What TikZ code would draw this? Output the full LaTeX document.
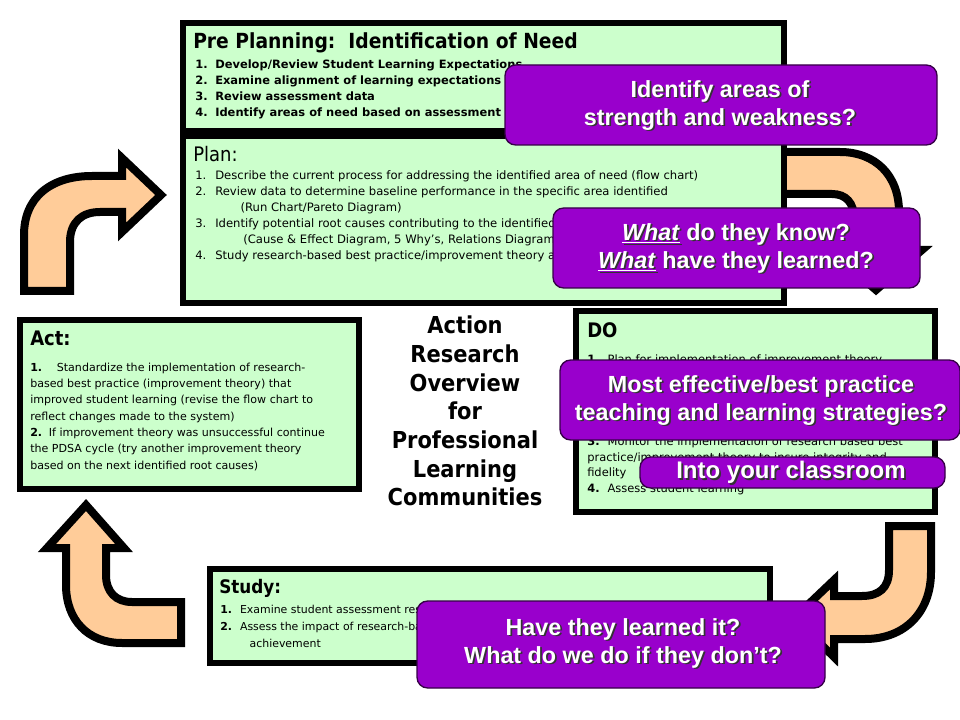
\documentclass[tikz,border=0pt]{standalone}
\usepackage{fontspec}
\setmainfont{DejaVu Sans Condensed}
\newfontfamily\stepfont{DejaVu Sans}
\newfontfamily\callfont{Liberation Sans}
\usetikzlibrary{positioning,
				calc}
\definecolor{mint}{HTML}{CCFFCC}
\definecolor{grape}{HTML}{9900CC}
\definecolor{peach}{HTML}{FFCC99}
\newcommand\numcol[1]{\makebox[15pt][l]{#1}}
\newcommand\castline[1]{\leavevmode\rlap{\hspace{1.3pt}\raisebox{-1.3pt}{\color{black!80}#1}}#1}
\tikzset{
	box/.style={draw=black, fill=mint, line width=4.5pt},
	bentarrow/.style={draw=black, fill=peach, line width=6pt, line join=miter},
	callout/.style={draw=grape!35!black, fill=grape, line width=1pt, rounded corners=8pt},
	heading/.style={anchor=base west, inner sep=0pt, font=\bfseries\fontsize{15}{18}\selectfont},
	steps/.style={anchor=base west, inner sep=0pt, align=left},
	calltext/.style={text=white, align=center, inner sep=0pt, font=\callfont\bfseries\fontsize{17.5}{21}\selectfont}
}
\begin{document}
\begin{tikzpicture}[x=0.75pt,y=-0.75pt]
	\useasboundingbox (0,0) rectangle (960,720);
	\fill[white] (0,0) rectangle (960,720);
	\draw[bentarrow] (24,291) -- (24,235) .. controls (24,198) and (50,176) .. (92,176) -- (122,176) -- (122,158) -- (161,195) -- (122,232) -- (122,212) -- (100,212) .. controls (82,212) and (70,222) .. (70,242) -- (70,291) -- cycle;
	\draw[bentarrow] (782,152) -- (840,152) .. controls (875,152) and (899,175) .. (899,212) -- (899,250) -- (922,250) -- (876,290) -- (830,250) -- (854,250) -- (854,218) .. controls (854,203) and (846,194) .. (832,194) -- (782,194) -- cycle;
	\draw[bentarrow] (889,526) -- (931,526) -- (931,572) .. controls (931,612) and (905,639) .. (865,639) -- (834,639) -- (834,657) -- (794,618) -- (834,580) -- (834,596) -- (862,596) .. controls (879,596) and (889,588) .. (889,570) -- cycle;
	\draw[bentarrow] (181,602) -- (132,602) .. controls (116,602) and (106,592) .. (106,575) -- (106,548) -- (124,548) -- (86,505) -- (47,548) -- (66,548) -- (66,585) .. controls (66,620) and (88,643) .. (122,643) -- (181,643) -- cycle;
	\draw[box] (183,23) rectangle (784,131);
	\draw[box] (183,136) rectangle (784,303);
	\draw[box] (20,320) rectangle (359,489);
	\draw[box] (576,311) rectangle (935,512);
	\draw[box] (210,569) rectangle (770,663);
	% multi-line nodes sit on the baseline of their last line
	\node[heading, font=\bfseries\fontsize{15.6}{18}\selectfont] (pretitle) at (193,49) {Pre Planning:\ \ Identification of Need};
	\node[steps, font=\stepfont\bfseries\fontsize{8.6}{12.2}\selectfont] (presteps) at (195,117) {\numcol{1.}Develop/Review Student Learning Expectations\\
		\numcol{2.}Examine alignment of learning expectations\\
		\numcol{3.}Review assessment data\\
		\numcol{4.}Identify areas of need based on assessment};
	\node[heading, font=\fontsize{15}{18}\selectfont] (plantitle) at (193,162) {Plan:};
	\node[steps, font=\stepfont\fontsize{8.7}{12}\selectfont] (plansteps) at (195,260) {\numcol{1.}Describe the current process for addressing the identified area of need (flow chart)\\
		\numcol{2.}Review data to determine baseline performance in the specific area identified\\
		\hspace*{34pt}(Run Chart/Pareto Diagram)\\
		\numcol{3.}Identify potential root causes contributing to the identified\\
		\hspace*{36pt}(Cause \& Effect Diagram, 5 Why’s, Relations Diagram)\\
		\numcol{4.}Study research-based best practice/improvement theory and};
	\node[heading] (acttitle) at (30,345) {Act:};
	\node[steps, font=\stepfont\fontsize{8.3}{12.2}\selectfont] (actsteps) at (30,469) {\textbf{1.}\hspace{11pt}Standardize the implementation of research-\\
		based best practice (improvement theory) that\\
		improved student learning (revise the flow chart to\\
		reflect changes made to the system)\\
		\textbf{2.}\hspace{5pt}If improvement theory was unsuccessful continue\\
		the PDSA cycle (try another improvement theory\\
		based on the next identified root causes)};
	\node[heading] (dotitle) at (587,337) {DO};
	\node[steps, font=\stepfont\fontsize{8.6}{11.6}\selectfont] (dofirst) at (587,363) {\textbf{1.}\hspace{6pt}Plan for implementation of improvement theory};
	\node[steps, font=\stepfont\fontsize{8.6}{11.6}\selectfont] (dorest) at (587,492) {\textbf{3.}\hspace{6pt}Monitor the implementation of research based best\\
		practice/improvement theory to insure integrity and\\
		fidelity\\
		\textbf{4.}\hspace{6pt}Assess student learning};
	\node[heading, font=\bfseries\fontsize{14}{17}\selectfont] (studytitle) at (219,593) {Study:};
	\node[steps, font=\stepfont\fontsize{8.2}{12.4}\selectfont] (studysteps) at (220,647) {\textbf{1.}\hspace{6pt}Examine student assessment results\\
		\textbf{2.}\hspace{6pt}Assess the impact of research-based best practice on student\\
		\hspace*{22pt}achievement};
	\node[align=center, inner sep=0pt, font=\bfseries\fontsize{17.5}{21.5}\selectfont] (overview) at (465,411) {Action\\Research\\Overview\\for\\Professional\\Learning\\Communities};
	\draw[callout] (505,65) rectangle (937,145);
	\node[calltext] (areas) at (720,106) {\castline{Identify areas of}\\\castline{strength and weakness?}};
	\draw[callout] (553,208) rectangle (920,288);
	\node[calltext] (knowwhat) at (736,249) {\castline{\underline{\textit{What}} do they know?}\\\castline{\underline{\textit{What}} have they learned?}};
	\draw[callout] (560,360) rectangle (960,440);
	\node[calltext] (strategies) at (761,401) {\castline{Most effective/best practice}\\\castline{teaching and learning strategies?}};
	\draw[callout] (640,457) rectangle (945,488);
	\node[calltext, font=\callfont\bfseries\fontsize{18}{21}\selectfont] (classroom) at (791,473) {\castline{Into your classroom}};
	\draw[callout] (417,601) rectangle (825,688);
	\node[calltext] (learnedit) at (623,644) {\castline{Have they learned it?}\\\castline{What do we do if they don’t?}};
\end{tikzpicture}
\end{document}
